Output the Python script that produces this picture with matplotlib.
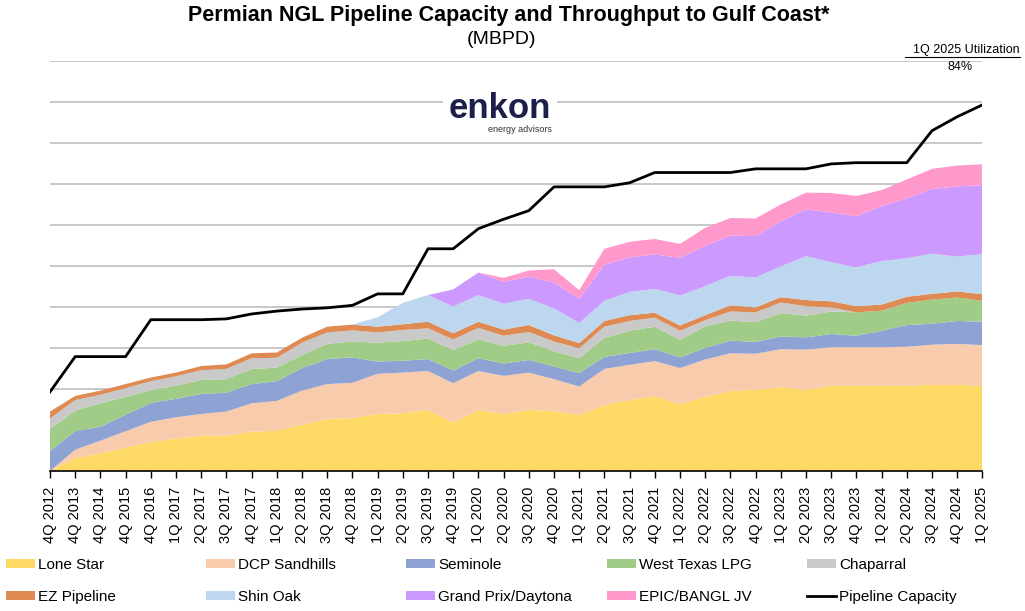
import matplotlib
matplotlib.use("Agg")
import matplotlib.pyplot as plt
import numpy as np
from matplotlib.patches import Patch
from matplotlib.lines import Line2D

plt.rcParams['font.family'] = ['Liberation Sans', 'DejaVu Sans']

# quarters on the x axis (annual first, then quarterly)
quarters = ['4Q 2012', '4Q 2013', '4Q 2014', '4Q 2015', '4Q 2016']
for yr in range(2017, 2025):
    for q in range(1, 5):
        quarters.append(f'{q}Q {yr}')
quarters.append('1Q 2025')

# throughput by pipeline, MBPD
lone_star = [0, 160, 215, 285, 355, 395, 430, 430, 480, 490, 565, 635, 645, 695, 705, 745, 590, 745, 695,
             745, 730, 685, 805, 865, 915, 815, 905, 975, 990, 1020, 990, 1040, 1040, 1040, 1040, 1050, 1050, 1040]
dcp_sandhills = [0, 100, 155, 200, 245, 260, 265, 295, 345, 365, 415, 425, 430, 490, 495, 475, 480, 475, 465,
                 455, 390, 345, 440, 430, 425, 440, 455, 460, 440, 465, 490, 470, 470, 470, 475, 490, 500, 495]
seminole = [245, 225, 170, 200, 230, 225, 245, 230, 235, 240, 275, 305, 310, 150, 145, 145, 155, 155, 150,
            155, 155, 165, 145, 145, 145, 130, 140, 155, 145, 155, 150, 160, 140, 200, 265, 255, 280, 285]
west_texas = [270, 250, 285, 220, 155, 160, 170, 165, 185, 165, 160, 185, 195, 230, 240, 250, 250, 230, 215,
              215, 185, 180, 235, 270, 275, 215, 265, 245, 240, 285, 265, 275, 285, 245, 270, 295, 285, 255]
chaparral = [125, 130, 105, 105, 110, 115, 120, 125, 130, 120, 150, 140, 135, 125, 135, 125, 130, 140, 125,
             125, 120, 120, 135, 120, 110, 110, 75, 110, 120, 130, 115, 50, 0, 0, 0, 0, 0, 0]
ez_pipeline = [85, 50, 50, 50, 45, 45, 50, 55, 60, 65, 60, 70, 70, 70, 70, 80, 75, 75, 75,
               85, 75, 65, 70, 70, 60, 65, 60, 75, 60, 65, 75, 75, 75, 75, 75, 70, 75, 80]
shin_oak = [0] * 13 + [115, 260, 325, 325, 325, 315, 320, 330, 245, 245, 285, 290, 365, 355, 360, 365,
                       375, 535, 475, 475, 530, 470, 490, 425, 490]
grand_prix = [0] * 16 + [210, 275, 265, 270, 315, 295, 440, 420, 420, 460, 490, 490, 505, 550, 570, 610,
                         620, 670, 730, 790, 855, 840]
epic = [0] * 18 + [50, 75, 160, 105, 195, 190, 190, 170, 220, 215, 215, 205, 205, 235, 250, 195, 230, 245,
                   255, 255]
capacity = [965, 1395, 1395, 1395, 1845, 1845, 1845, 1855, 1915, 1950, 1975, 1990, 2020, 2160, 2160, 2710,
            2710, 2955, 3070, 3175, 3465, 3465, 3465, 3515, 3640, 3640, 3640, 3640, 3685, 3685, 3685, 3745,
            3760, 3760, 3760, 4150, 4320, 4465]

names = ['Lone Star', 'DCP Sandhills', 'Seminole', 'West Texas LPG', 'Chaparral',
         'EZ Pipeline', 'Shin Oak', 'Grand Prix/Daytona', 'EPIC/BANGL JV']
colors = ['#FFD966', '#F8CBAD', '#8EA3D4', '#A0CC87', '#C9C9C9',
          '#DE8A52', '#BDD7EE', '#CC99FF', '#FF99CC']
series = [lone_star, dcp_sandhills, seminole, west_texas, chaparral,
          ez_pipeline, shin_oak, grand_prix, epic]

fig = plt.figure(figsize=(10.25, 6.11), dpi=100)
ax = fig.add_axes([50 / 1025, 140 / 611, 932.4 / 1025, 410 / 611])

x = np.arange(len(quarters))
ax.stackplot(x, *series, colors=colors, lw=0)
ax.plot(x, capacity, color='black', lw=2)

ax.set_xlim(0, len(quarters) - 1)
ax.set_ylim(0, 5000)
ax.set_yticks(np.arange(0, 5001, 500))
ax.tick_params(axis='y', length=0, labelleft=False)
ax.grid(axis='y', color='#bfbfbf', lw=1.2)
ax.set_axisbelow(True)
for s in ['top', 'right', 'left']:
    ax.spines[s].set_visible(False)
ax.spines['bottom'].set_linewidth(1.2)
ax.set_xticks(x)
ax.set_xticklabels(quarters, rotation=90, fontsize=10.5)
ax.tick_params(axis='x', direction='out', length=5, width=1, pad=6)

# titles
fig.text(188 / 1025, 1 - 15 / 611, 'Permian NGL Pipeline Capacity and Throughput to Gulf Coast*',
         ha='left', va='center', fontsize=15.5, fontweight='bold')
fig.text(502 / 1025, 1 - 40 / 611, '(MBPD)', ha='center', va='center', fontsize=14)

# utilization note
util = (sum(s[-1] for s in series)) / capacity[-1]
fig.text(1020 / 1025, 1 - 50 / 611, '1Q 2025 Utilization', ha='right', va='center', fontsize=9)
fig.add_artist(Line2D([905 / 1025, 1020 / 1025], [1 - 57 / 611] * 2, color='black', lw=0.8))
fig.text(960 / 1025, 1 - 67 / 611, f'{util:.0%}', ha='center', va='center', fontsize=9)

# logo
fig.text(500 / 1025, 1 - 108 / 611, 'enkon', ha='center', va='center', fontsize=25,
         fontweight='bold', color='#1c1f4a',
         bbox=dict(facecolor='white', edgecolor='none', pad=4))
fig.text(552 / 1025, 1 - 130 / 611, 'energy advisors', ha='right', va='center', fontsize=6.5,
         color='#333333')

# legend: five columns, two rows
handles = [Patch(facecolor=c, edgecolor='none') for c in colors]
handles.append(Line2D([], [], color='black', lw=2))
labels = names + ['Pipeline Capacity']
col_x = [6, 206, 406, 607, 807]
for k in range(5):
    fig.legend([handles[k], handles[k + 5]], [labels[k], labels[k + 5]],
               loc='upper left', bbox_to_anchor=(col_x[k] / 1025, 1 - 558 / 611),
               frameon=False, fontsize=11, handlelength=1.9, handleheight=0.52,
               handletextpad=0.2, labelspacing=1.15, borderpad=0, borderaxespad=0)

fig.savefig('out.png', dpi=100)
